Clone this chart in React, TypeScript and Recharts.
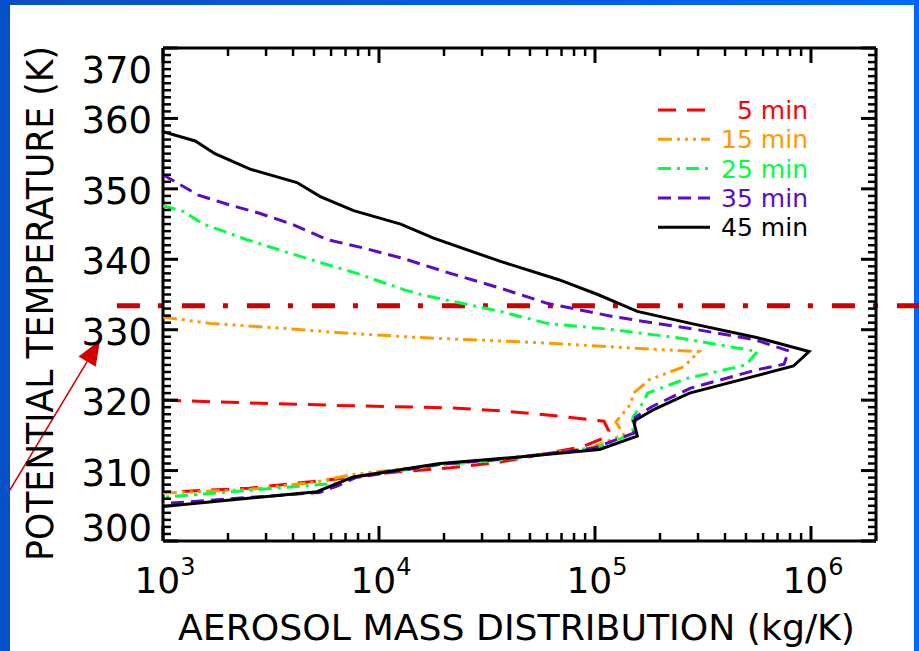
import React from 'react';
import { ScatterChart, Scatter, XAxis, YAxis, ReferenceLine, Legend } from 'recharts';

// ---- data ----
const seriesNames = ['5 min', '15 min', '25 min', '35 min', '45 min'];
const seriesColors = ['#ff0000', '#ff9900', '#00ff44', '#5a0ac8', '#000000'];
const seriesDash = ['18 11', '14 5 3 5 3 5 3 5', '13 6 3 6', '13 7', ''];

const mass5 = [1000, 2530, 7400, 21400, 36500, 60000, 110000, 116000, 113000, 88000, 36500, 21400, 11000, 6400, 2500, 1000];
const theta5 = [320.0, 319.6, 319.2, 318.9, 318.5, 317.9, 317.0, 315.6, 314.8, 313.4, 311.2, 310.4, 309.7, 308.8, 307.5, 306.9];

const mass15 = [1000, 1650, 3610, 6400, 15000, 36500, 60000, 146000, 303000, 258000, 178000, 151000, 146000, 125000, 136000, 95000, 36500, 19200, 7400, 5160, 2500, 1000];
const theta15 = [331.8, 330.9, 330.2, 329.6, 328.9, 328.4, 328.1, 327.4, 326.9, 324.75, 322.9, 321.0, 319.4, 316.9, 315.1, 313.2, 311.6, 310.9, 309.4, 308.4, 307.3, 306.8];

const mass25 = [1000, 1240, 1540, 2440, 3880, 5540, 7900, 13000, 16100, 36500, 60000, 122000, 249000, 565000, 500000, 268000, 175000, 169000, 150000, 148000, 151000, 102000, 36500, 19200, 7400, 6300, 1000];
const theta25 = [347.6, 346.8, 345.0, 342.8, 340.85, 339.4, 338.0, 335.7, 334.9, 332.6, 330.9, 330.0, 328.8, 326.9, 325.0, 323.1, 321.0, 319.9, 317.6, 316.5, 315.3, 313.2, 311.5, 310.8, 309.0, 308.2, 306.2];

const mass35 = [1000, 1460, 1970, 2820, 4020, 5740, 8500, 13000, 21400, 36500, 60000, 122000, 298000, 545000, 790000, 750000, 560000, 277000, 184000, 154000, 151000, 99000, 36500, 19200, 7800, 6400, 5300, 1000];
const theta35 = [352.0, 349.1, 347.85, 346.5, 344.9, 342.8, 341.6, 340.1, 338.0, 335.9, 333.75, 331.85, 330.0, 328.6, 327.0, 325.1, 324.3, 321.7, 319.1, 317.6, 315.3, 313.2, 311.6, 310.9, 309.0, 307.8, 306.9, 305.3];

const mass45 = [1000, 1410, 1740, 2530, 4170, 5350, 7630, 12600, 17900, 36500, 68000, 103000, 157000, 277000, 560000, 980000, 830000, 274000, 188000, 151000, 157000, 105000, 36500, 19200, 7600, 5160, 1000];
const theta45 = [358.1, 356.8, 355.0, 352.8, 350.9, 348.9, 346.9, 345.0, 343.0, 339.7, 337.1, 335.0, 332.6, 330.9, 328.9, 326.9, 324.85, 321.0, 318.7, 317.0, 314.9, 313.0, 311.7, 311.0, 309.1, 307.0, 304.9];

const seriesMass = [mass5, mass15, mass25, mass35, mass45];
const seriesTheta = [theta5, theta15, theta25, theta35, theta45];

// axes
const massDomain = [1000, 2000000];
const thetaDomain = [300, 370];
const massMajor = [1e3, 1e4, 1e5, 1e6];
const massTicks = [
  1000, 2000, 3000, 4000, 5000, 6000, 7000, 8000, 9000,
  10000, 20000, 30000, 40000, 50000, 60000, 70000, 80000, 90000,
  100000, 200000, 300000, 400000, 500000, 600000, 700000, 800000, 900000,
  1000000, 2000000,
];
const massTickExp = { 1000: '3', 10000: '4', 100000: '5', 1000000: '6' };
const thetaMajor = [300, 310, 320, 330, 340, 350, 360, 370];
const thetaTicks = Array.from({ length: 71 }, (_, i) => 300 + i);

// annotations
const tropopauseTheta = 333.4;
const tropoLine = [{ x: 612, y: tropopauseTheta }, { x: 3300000, y: tropopauseTheta }];
const arrowLine = [{ x: 195, y: 307.2 }, { x: 511, y: 328.5 }];

const xTitle = 'AEROSOL MASS DISTRIBUTION (kg/K)';
const yTitle = 'POTENTIAL TEMPERATURE (K)';

const FONT = '"DejaVu Sans", "Noto Sans", sans-serif';

const seriesData = seriesMass.map((m, i) => m.map((x, j) => ({ x, y: seriesTheta[i][j] })));

const NoShape = () => <g />;

const LeftTick = (props: any) => {
  const { x, y, payload } = props;
  const v = payload.value;
  const major = thetaMajor.includes(v);
  const len = major ? 15 : 8;
  let dy = 15;
  if (v === 370) dy = 35;
  if (v === 300) dy = 0;
  return (
    <g>
      <line x1={x} x2={x + len} y1={y} y2={y} stroke="#000" strokeWidth={major ? 3 : 2.5} />
      {major && (
        <text x={x - 11} y={y + dy} textAnchor="end" fontSize={37} fontFamily={FONT} fill="#000">
          {v}
        </text>
      )}
    </g>
  );
};

const RightTick = (props: any) => {
  const { x, y, payload } = props;
  const major = thetaMajor.includes(payload.value);
  const len = major ? 15 : 8;
  return <line x1={x} x2={x - len} y1={y} y2={y} stroke="#000" strokeWidth={major ? 3 : 2.5} />;
};

const BottomTick = (props: any) => {
  const { x, y, payload } = props;
  const v = payload.value;
  const major = massMajor.includes(v);
  const len = major ? 15 : 8;
  return (
    <g>
      <line x1={x} x2={x} y1={y} y2={y - len} stroke="#000" strokeWidth={major ? 3 : 2.5} />
      {major && (
        <text x={x + 2} y={y + 52} textAnchor="middle" fontSize={36} fontFamily={FONT} fill="#000">
          <tspan>10</tspan>
          <tspan dy={-18} fontSize={24}>{(massTickExp as any)[v]}</tspan>
        </text>
      )}
    </g>
  );
};

const TopTick = (props: any) => {
  const { x, y, payload } = props;
  const major = massMajor.includes(payload.value);
  const len = major ? 15 : 8;
  return <line x1={x} x2={x} y1={y} y2={y + len} stroke="#000" strokeWidth={major ? 3 : 2.5} />;
};

const XTitle = (props: any) => {
  const vb = props.viewBox || { x: 163, y: 541, width: 713, height: 1 };
  return (
    <text
      x={vb.x + vb.width / 2 - 3}
      y={vb.y + 99}
      textAnchor="middle"
      fontSize={36}
      fontFamily={FONT}
      fill="#000"
      textLength={677}
      lengthAdjust="spacingAndGlyphs"
    >
      {xTitle}
    </text>
  );
};

const YTitle = (props: any) => {
  const vb = props.viewBox || { x: 162, y: 48, width: 1, height: 493 };
  const cx = 53;
  const cy = vb.y + vb.height / 2 + 9;
  return (
    <text
      x={cx}
      y={cy}
      transform={`rotate(-90 ${cx} ${cy})`}
      textAnchor="middle"
      fontSize={37}
      fontFamily={FONT}
      fill="#000"
      textLength={515}
      lengthAdjust="spacingAndGlyphs"
    >
      {yTitle}
    </text>
  );
};

const ArrowShape = (props: any) => {
  const { x1, y1, x2, y2 } = props;
  if ([x1, y1, x2, y2].some((v) => typeof v !== 'number' || isNaN(v))) return null;
  const dx = x2 - x1;
  const dy = y2 - y1;
  const L = Math.sqrt(dx * dx + dy * dy);
  const ux = dx / L;
  const uy = dy / L;
  const hl = 25;
  const hw = 10;
  const bx = x2 - ux * hl;
  const by = y2 - uy * hl;
  const pts = `${x2},${y2} ${bx - uy * hw},${by + ux * hw} ${bx + uy * hw},${by - ux * hw}`;
  return (
    <g>
      <line x1={x1} y1={y1} x2={bx} y2={by} stroke="#d40000" strokeWidth={1.6} />
      <polygon points={pts} fill="#d40000" />
    </g>
  );
};

const LegendBox = () => (
  <svg width={180} height={150} style={{ overflow: 'visible' }}>
    {seriesNames.map((n, i) => {
      const yy = 20 + i * 29.3;
      return (
        <g key={n}>
          <line
            x1={18}
            x2={70}
            y1={yy}
            y2={yy}
            stroke={seriesColors[i]}
            strokeWidth={3}
            strokeDasharray={seriesDash[i] || undefined}
          />
          <text x={168} y={yy + 9} textAnchor="end" fontSize={25} fontFamily={FONT} fill={seriesColors[i]}>
            {n}
          </text>
        </g>
      );
    })}
  </svg>
);

const axisLineStyle = { stroke: '#000', strokeWidth: 3 };

export default function App() {
  return (
    <div style={{ position: 'absolute', left: 0, top: 0, width: 919, height: 651, background: '#ffffff', overflow: 'hidden' }}>
      <div style={{ position: 'absolute', left: 0, top: 0, width: 919, height: 5, background: 'linear-gradient(to right, #0a4fc4, #0068f8)' }} />
      <div style={{ position: 'absolute', left: 0, top: 0, width: 10, height: 651, background: '#0552c8' }} />
      <div style={{ position: 'absolute', right: 0, top: 0, width: 5, height: 651, background: '#0066f5' }} />
      <div style={{ position: 'absolute', left: 0, top: 0 }}>
        <ScatterChart width={919} height={651} margin={{ top: 47, right: 42, bottom: 109, left: 162 }}>
          <XAxis
            xAxisId="b"
            orientation="bottom"
            type="number"
            dataKey="x"
            scale="log"
            domain={massDomain}
            allowDataOverflow
            ticks={massTicks}
            interval={0}
            height={1}
            tickSize={0}
            tickMargin={0}
            tickLine={false}
            tick={BottomTick}
            axisLine={axisLineStyle}
            label={{ content: XTitle }}
          />
          <XAxis
            xAxisId="t"
            orientation="top"
            type="number"
            dataKey="x"
            scale="log"
            domain={massDomain}
            allowDataOverflow
            ticks={massTicks}
            interval={0}
            height={1}
            tickSize={0}
            tickMargin={0}
            tickLine={false}
            tick={TopTick}
            axisLine={axisLineStyle}
          />
          <YAxis
            yAxisId="l"
            orientation="left"
            type="number"
            dataKey="y"
            domain={thetaDomain}
            allowDataOverflow
            ticks={thetaTicks}
            interval={0}
            width={1}
            tickSize={0}
            tickMargin={0}
            tickLine={false}
            tick={LeftTick}
            axisLine={axisLineStyle}
            label={{ content: YTitle }}
          />
          <YAxis
            yAxisId="r"
            orientation="right"
            type="number"
            dataKey="y"
            domain={thetaDomain}
            allowDataOverflow
            ticks={thetaTicks}
            interval={0}
            width={1}
            tickSize={0}
            tickMargin={0}
            tickLine={false}
            tick={RightTick}
            axisLine={axisLineStyle}
          />
          {seriesData.map((d, i) => (
            <Scatter
              key={seriesNames[i]}
              name={seriesNames[i]}
              data={d}
              xAxisId="b"
              yAxisId="l"
              fill={seriesColors[i]}
              line={{ stroke: seriesColors[i], strokeWidth: 3, strokeDasharray: seriesDash[i] || undefined }}
              lineType="joint"
              shape={NoShape}
              isAnimationActive={false}
            />
          ))}
          <ReferenceLine
            xAxisId="b"
            yAxisId="l"
            segment={tropoLine}
            ifOverflow="visible"
            stroke="#cc0000"
            strokeWidth={5}
            strokeDasharray="23 18 5 19"
          />
          <ReferenceLine
            xAxisId="b"
            yAxisId="l"
            segment={arrowLine}
            ifOverflow="visible"
            stroke="#d40000"
            shape={ArrowShape}
          />
          <Legend
            layout="vertical"
            align="center"
            verticalAlign="middle"
            wrapperStyle={{ left: 640, top: 90, width: 180, height: 150 }}
            content={LegendBox}
          />
        </ScatterChart>
      </div>
    </div>
  );
}
